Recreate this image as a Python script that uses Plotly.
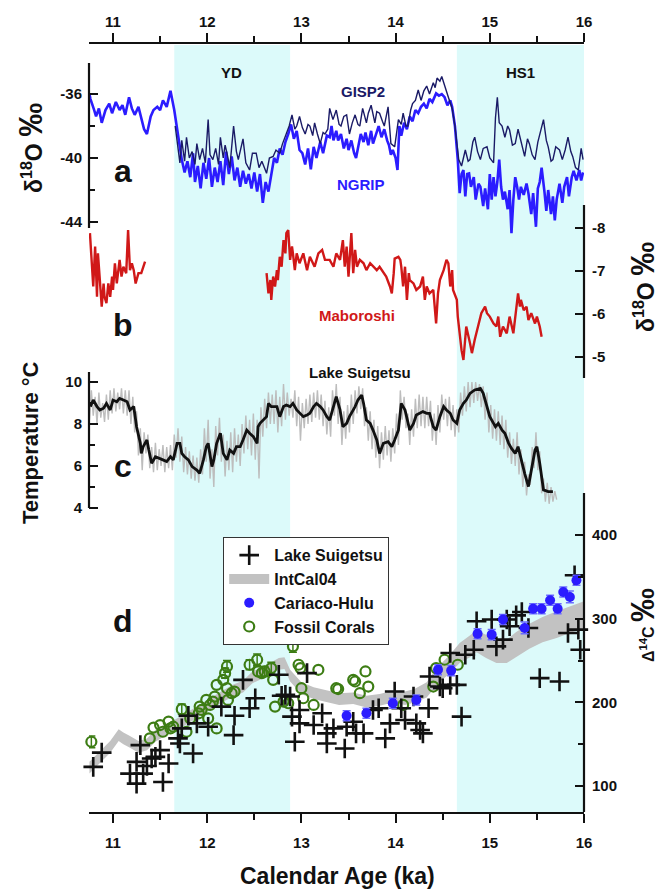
import plotly.graph_objects as go

W, H = 665, 892
def px(x): return x / W
def py(y): return 1 - y / H

# ---------------- DATA ----------------
top_ticks = [11, 12, 13, 14, 15, 16]
yd_band = [11.65, 12.88]
hs1_band = [14.65, 16.0]

ngrip_age = [10.75, 10.76, 10.80, 10.82, 10.85, 10.88, 10.92, 10.96, 10.99, 11.03, 11.07, 11.10, 11.13, 11.17,
             11.20, 11.23, 11.27, 11.30, 11.33, 11.36, 11.40, 11.43, 11.47, 11.50, 11.53, 11.57, 11.61, 11.65,
             11.70, 11.73, 11.76, 11.79, 11.82, 11.85, 11.87, 11.90, 11.93, 11.96, 11.99, 12.02, 12.05, 12.08,
             12.11, 12.14, 12.17, 12.20, 12.23, 12.26, 12.29, 12.32, 12.35, 12.38, 12.41, 12.44, 12.47, 12.50,
             12.53, 12.56, 12.59, 12.62, 12.65, 12.68, 12.71, 12.74, 12.77, 12.80, 12.83, 12.86, 12.89, 12.92,
             12.95, 12.98, 13.01, 13.04, 13.07, 13.10, 13.13, 13.16, 13.20, 13.23, 13.27,
             13.30, 13.32, 13.34, 13.37, 13.39, 13.42, 13.45, 13.48, 13.50, 13.53, 13.56, 13.58, 13.61, 13.63,
             13.66, 13.68, 13.71, 13.74, 13.76, 13.79, 13.82, 13.85, 13.88, 13.91, 13.93, 13.95, 13.97, 14.00,
             14.02, 14.04, 14.06, 14.09, 14.12, 14.15, 14.18, 14.21, 14.24, 14.27, 14.30, 14.33, 14.36, 14.39,
             14.43, 14.46, 14.49, 14.52, 14.55, 14.58, 14.60, 14.63, 14.66, 14.68, 14.70, 14.72, 14.74, 14.76,
             14.78, 14.80, 14.83, 14.85, 14.88, 14.90, 14.93, 14.95, 14.98, 15.00, 15.02, 15.04, 15.06, 15.08,
             15.10, 15.12, 15.14, 15.16, 15.19, 15.21, 15.23, 15.25, 15.27, 15.29, 15.31, 15.33, 15.36, 15.39,
             15.41, 15.44, 15.46, 15.49, 15.51, 15.53, 15.55, 15.58, 15.60, 15.62, 15.65, 15.67, 15.69, 15.71,
             15.74, 15.77, 15.79, 15.82, 15.84, 15.87, 15.89, 15.92, 15.95, 15.97, 15.99]
ngrip_d18o = [-36.0, -36.3, -37.0, -37.4, -36.9, -37.8, -37.0, -36.6, -37.2, -36.5, -37.0, -36.7, -37.3, -36.2,
              -36.9, -37.3, -36.8, -37.6, -38.2, -38.5, -37.4, -37.0, -36.8, -37.0, -36.4, -36.8, -35.8, -37.0,
              -39.0, -40.1, -40.9, -40.2, -41.2, -39.7, -41.5, -40.5, -41.9, -40.3, -41.3, -40.0, -41.8, -40.6,
              -41.5, -40.2, -41.7, -39.6, -41.0, -39.9, -41.4, -40.6, -41.8, -40.8, -41.6, -41.0, -41.9, -40.9,
              -42.1, -41.0, -42.8, -41.5, -42.1, -41.0, -40.0, -40.3, -39.4, -39.8, -39.0, -38.5, -37.9, -38.8,
              -38.3, -39.5, -39.7, -40.4, -39.4, -40.7, -39.3, -40.0, -39.0, -39.7, -38.6,
              -38.7, -38.0, -38.9, -38.3, -38.9, -38.5, -39.4, -38.8, -39.5, -38.9, -39.7, -40.0, -39.1, -38.5,
              -39.0, -38.4, -39.2, -38.3, -39.1, -38.6, -38.0, -38.7, -38.2, -38.9, -39.2, -39.8, -39.5, -40.0,
              -40.75, -38.0, -38.6, -37.8, -38.2, -37.4, -37.7, -37.0, -37.2, -36.8, -36.6, -36.9, -36.3, -36.5,
              -35.96, -36.1, -36.0, -36.2, -36.7, -36.4, -36.8, -38.0, -40.1, -42.2, -41.0, -40.75, -42.4, -41.0,
              -40.96, -41.8, -41.2, -42.6, -41.6, -41.8, -43.0, -41.9, -43.2, -41.0, -42.6, -41.2, -42.4, -41.5,
              -40.1, -41.8, -42.6, -42.1, -43.2, -42.0, -44.7, -42.6, -41.2, -41.8, -42.6, -41.8, -42.3, -41.6,
              -42.2, -43.5, -42.2, -44.3, -41.9, -41.5, -40.6, -42.1, -43.3, -42.0, -43.5, -42.4, -43.9, -42.6,
              -41.6, -42.8, -41.8, -41.2, -42.4, -41.2, -40.8, -41.4, -40.75, -41.4, -40.9]

gisp2_age = [11.66, 11.69, 11.71, 11.73, 11.76, 11.78, 11.81, 11.84, 11.87, 11.89, 11.92, 11.95, 11.98, 12.01,
             12.03, 12.06, 12.09, 12.12, 12.14, 12.17, 12.19, 12.21, 12.24, 12.28, 12.31, 12.33, 12.36, 12.38,
             12.41, 12.45, 12.48, 12.52, 12.55, 12.58, 12.60, 12.63, 12.66, 12.70, 12.73, 12.77, 12.80, 12.84,
             12.87, 12.90, 12.93, 12.95, 12.98, 13.01, 13.04, 13.07, 13.09, 13.12, 13.14, 13.17, 13.20, 13.23,
             13.25, 13.28, 13.30, 13.335, 13.37, 13.40, 13.42, 13.45, 13.48, 13.51, 13.54, 13.57, 13.60, 13.62,
             13.65, 13.69, 13.71, 13.74, 13.78, 13.80, 13.83, 13.86, 13.88, 13.92, 13.95, 13.99, 14.03, 14.06,
             14.08, 14.11, 14.13, 14.16, 14.18, 14.21, 14.24, 14.27, 14.30, 14.33, 14.36, 14.40, 14.42, 14.44,
             14.47, 14.49, 14.52, 14.56, 14.60, 14.63, 14.67, 14.70, 14.74, 14.77, 14.79, 14.82, 14.84, 14.87,
             14.90, 14.93, 14.97, 15.00, 15.04, 15.06, 15.08, 15.10, 15.13, 15.16, 15.19, 15.21, 15.24, 15.27,
             15.30, 15.32, 15.35, 15.37, 15.40, 15.42, 15.45, 15.48, 15.51, 15.53, 15.55, 15.57, 15.60, 15.62,
             15.65, 15.67, 15.70, 15.74, 15.77, 15.80, 15.83, 15.86, 15.88, 15.91, 15.94, 15.97, 15.99]
gisp2_d18o = [-38.0, -39.5, -40.3, -38.9, -40.2, -38.7, -40.0, -39.6, -40.4, -39.1, -40.1, -39.4, -40.3, -37.6,
              -39.8, -40.1, -39.4, -40.4, -38.7, -40.0, -39.2, -39.7, -40.6, -38.0, -39.6, -40.1, -39.2, -38.8,
              -40.3, -40.75, -39.7, -39.7, -40.6, -40.2, -40.5, -40.96, -40.0, -39.9, -39.5, -39.7, -39.1, -38.5,
              -38.0, -37.3, -38.2, -38.0, -37.4, -38.1, -38.5, -37.9, -38.0, -38.6, -37.8, -38.5, -39.1, -38.4,
              -38.5, -38.2, -36.9, -37.6, -37.0, -37.9, -38.0, -37.4, -37.3, -38.5, -37.8, -37.3, -37.9, -38.0,
              -36.9, -37.8, -37.2, -36.7, -37.8, -37.1, -37.2, -37.7, -38.0, -36.8, -39.1, -39.3, -37.6, -37.9,
              -37.2, -38.0, -38.0, -37.0, -36.6, -36.4, -35.75, -36.4, -35.8, -35.5, -36.0, -35.3, -35.6, -35.0,
              -35.2, -34.9, -35.5, -36.2, -36.9, -38.0, -40.1, -40.5, -39.5, -40.2, -40.1, -39.0, -38.7, -39.6,
              -40.1, -39.4, -39.3, -40.0, -40.3, -37.5, -36.2, -37.8, -38.0, -38.7, -38.0, -38.25, -39.2, -39.1,
              -38.2, -38.7, -39.5, -39.9, -38.8, -39.1, -39.8, -40.1, -39.0, -38.5, -38.0, -37.6, -38.9, -39.3,
              -40.2, -40.1, -39.3, -39.5, -40.1, -39.5, -38.7, -39.6, -39.9, -40.6, -40.75, -39.4, -40.1]

mab_age = [10.755, 10.77, 10.79, 10.81, 10.83, 10.84, 10.86, 10.88, 10.90, 10.91, 10.93, 10.95, 10.97, 10.99,
           11.00, 11.02, 11.04, 11.06, 11.07, 11.09, 11.11, 11.14, 11.16, 11.18, 11.20, 11.22, 11.24, 11.27,
           11.30, 11.34, None,
           12.63, 12.65, 12.67, 12.68, 12.70, 12.72, 12.74, 12.75, 12.77, 12.79, 12.81, 12.83, 12.84, 12.86,
           12.88, 12.90, 12.91, 12.93, 12.95, 12.98, 13.02, 13.06, 13.09, 13.14, 13.18, 13.22, 13.25, 13.30,
           13.34, 13.37, 13.41, 13.44, 13.46, 13.48, 13.50, 13.52, 13.53, 13.55, 13.57, 13.59, 13.62, 13.66,
           13.69, 13.73, 13.76, 13.80, 13.83, 13.87, 13.90, 13.94, 13.96, 13.98, 13.99, 14.03, 14.05, 14.06,
           14.08, 14.10, 14.12, 14.14, 14.15, 14.19, 14.22, 14.26, 14.29, 14.31, 14.33, 14.36, 14.40, 14.43,
           14.45, 14.47, 14.51, 14.54, 14.56, 14.58, 14.60, 14.61, 14.65, 14.66, 14.68, 14.70, 14.72, 14.74,
           14.75, 14.79, 14.81, 14.84, 14.88, 14.91, 14.95, 14.97, 15.00, 15.04, 15.07, 15.09, 15.11, 15.14,
           15.18, 15.21, 15.25, 15.28, 15.30, 15.32, 15.33, 15.36, 15.39, 15.41, 15.44, 15.48, 15.50, 15.53,
           15.55]
mab_d18o = [-7.88, -7.26, -6.64, -7.57, -6.40, -7.41, -6.79, -6.17, -6.71, -6.40, -6.25, -6.71, -6.40, -6.87,
            -6.56, -7.18, -6.71, -7.02, -7.26, -6.87, -7.10, -6.95, -7.95, -7.02, -7.18, -7.02, -6.71, -6.95,
            -6.95, -7.22, None,
            -6.95, -6.48, -6.79, -6.33, -6.87, -6.64, -7.02, -6.79, -7.33, -7.10, -7.72, -7.41, -7.88, -7.95,
            -7.26, -7.57, -7.41, -7.02, -7.41, -7.18, -7.41, -7.02, -7.33, -7.10, -7.41, -7.49, -7.26, -7.26,
            -7.10, -7.41, -7.26, -7.72, -7.10, -7.57, -6.87, -7.64, -7.88, -6.95, -7.49, -7.10, -7.26, -7.18,
            -7.02, -7.18, -7.10, -7.02, -7.10, -6.98, -6.87, -6.64, -6.48, -6.95, -7.29, -7.33, -7.26, -7.10,
            -6.64, -7.10, -6.33, -6.95, -6.79, -6.71, -6.56, -6.64, -6.87, -6.33, -6.64, -6.48, -6.56, -5.78,
            -6.48, -6.79, -7.02, -7.26, -7.18, -6.64, -7.02, -6.56, -6.33, -5.94, -5.55, -5.16, -4.93, -5.40,
            -5.71, -5.32, -5.09, -5.40, -5.78, -6.02, -6.17, -6.02, -5.94, -5.78, -5.71, -5.94, -5.47, -5.71,
            -5.55, -5.94, -5.55, -6.09, -6.48, -6.17, -6.33, -6.09, -6.17, -5.86, -6.02, -5.78, -5.94, -5.71,
            -5.47]

temp_age = [10.76, 10.79, 10.83, 10.86, 10.90, 10.93, 10.97, 11.00, 11.04, 11.07, 11.11, 11.15, 11.18, 11.22,
            11.23, 11.25, 11.29, 11.30, 11.32, 11.36, 11.38, 11.41, 11.45, 11.48, 11.53, 11.57, 11.61, 11.64,
            11.68, 11.71, 11.73, 11.76, 11.80, 11.84, 11.89, 11.92, 11.96, 11.99, 12.01, 12.05, 12.07, 12.10,
            12.14, 12.17, 12.21, 12.24, 12.28, 12.31, 12.35, 12.38, 12.42, 12.45, 12.49, 12.53, 12.54, 12.56,
            12.60, 12.63, 12.65, 12.68, 12.74, 12.77, 12.81, 12.84, 12.88, 12.91, 12.95, 12.99, 13.02, 13.06,
            13.09, 13.13, 13.16, 13.20, 13.23, 13.27, 13.30, 13.34, 13.37, 13.41, 13.44, 13.48, 13.51, 13.57,
            13.60, 13.64, 13.66, 13.69, 13.73, 13.76, 13.80, 13.83, 13.87, 13.92, 13.96, 13.99, 14.03, 14.06,
            14.10, 14.15, 14.19, 14.22, 14.26, 14.29, 14.33, 14.36, 14.40, 14.43, 14.47, 14.51, 14.54, 14.58,
            14.61, 14.65, 14.68, 14.72, 14.75, 14.79, 14.84, 14.90, 14.93, 14.97, 15.00, 15.04, 15.06, 15.09,
            15.13, 15.16, 15.20, 15.23, 15.27, 15.30, 15.34, 15.37, 15.41, 15.44, 15.48, 15.50, 15.53, 15.57,
            15.62, 15.67]
temp_smooth = [8.83, 9.14, 8.83, 8.67, 8.75, 8.98, 8.67, 9.14, 9.06, 9.22, 9.14, 9.06, 8.67, 8.83,
               8.51, 7.87, 7.08, 6.60, 6.92, 7.24, 6.76, 6.13, 6.44, 6.37, 6.29, 6.21, 6.44, 6.29,
               7.08, 7.08, 6.60, 6.44, 6.29, 5.97, 5.81, 5.65, 6.29, 6.92, 7.08, 5.97, 6.29, 7.08,
               7.56, 6.60, 6.29, 6.76, 6.60, 6.92, 6.92, 7.24, 7.71, 7.56, 7.40, 7.08, 7.87, 8.03,
               8.19, 8.35, 8.98, 8.83, 8.83, 8.35, 8.83, 8.90, 8.83, 8.98, 8.67, 8.51, 8.35, 8.43,
               8.51, 8.83, 8.98, 8.83, 8.67, 8.35, 8.19, 8.83, 9.30, 8.67, 7.87, 8.03, 8.35, 8.83,
               9.14, 9.38, 8.98, 8.19, 8.03, 7.71, 7.24, 6.60, 7.08, 7.16, 6.92, 7.24, 7.71, 8.98,
               8.67, 7.71, 8.03, 8.43, 8.51, 8.59, 8.51, 8.51, 7.87, 7.71, 8.35, 8.83, 8.67, 8.51,
               8.19, 8.03, 8.67, 8.98, 9.14, 9.46, 9.62, 9.70, 9.46, 8.83, 8.35, 8.03, 7.87, 8.03,
               7.71, 7.56, 7.08, 6.84, 6.60, 6.92, 6.13, 5.65, 5.02, 5.81, 6.76, 6.92, 6.13, 4.86,
               4.78, 4.78]

temp_raw_age = [10.75, 10.77, 10.79, 10.81, 10.83, 10.85, 10.87, 10.89, 10.91, 10.93, 10.95, 10.97, 10.99, 11.01,
                11.03, 11.05, 11.07, 11.09, 11.11, 11.13, 11.15, 11.17, 11.19, 11.21, 11.23, 11.25, 11.27, 11.29,
                11.31, 11.33, 11.35, 11.37, 11.39, 11.41, 11.43, 11.45, 11.47, 11.49, 11.51, 11.53, 11.55, 11.57,
                11.59, 11.61, 11.63, 11.65, 11.67, 11.69, 11.71, 11.73, 11.75, 11.77, 11.79, 11.81, 11.83, 11.85,
                11.87, 11.89, 11.91, 11.93, 11.95, 11.97, 11.99, 12.01, 12.03, 12.05, 12.07, 12.09, 12.11, 12.13,
                12.15, 12.17, 12.19, 12.21, 12.23, 12.25, 12.27, 12.29, 12.31, 12.33, 12.35, 12.37, 12.39, 12.41,
                12.43, 12.45, 12.47, 12.49, 12.51, 12.53, 12.55, 12.57, 12.59, 12.61, 12.63, 12.65, 12.67, 12.69,
                12.71, 12.73, 12.75, 12.77, 12.79, 12.81, 12.83, 12.85, 12.87, 12.89, 12.91, 12.93, 12.95, 12.97,
                12.99, 13.01, 13.03, 13.05, 13.07, 13.09, 13.11, 13.13, 13.15, 13.17, 13.19, 13.21, 13.23, 13.25,
                13.27, 13.29, 13.31, 13.33, 13.35, 13.37, 13.39, 13.41, 13.43, 13.45, 13.47, 13.49, 13.51, 13.53,
                13.55, 13.57, 13.59, 13.61, 13.63, 13.65, 13.67, 13.69, 13.71, 13.73, 13.75, 13.77, 13.79, 13.81,
                13.83, 13.85, 13.87, 13.89, 13.91, 13.93, 13.95, 13.97, 13.99, 14.01, 14.03, 14.05, 14.07, 14.09,
                14.11, 14.13, 14.15, 14.17, 14.19, 14.21, 14.23, 14.25, 14.27, 14.29, 14.31, 14.33, 14.35, 14.37,
                14.39, 14.41, 14.43, 14.45, 14.47, 14.49, 14.51, 14.53, 14.55, 14.57, 14.59, 14.61, 14.63, 14.65,
                14.67, 14.69, 14.71, 14.73, 14.75, 14.77, 14.79, 14.81, 14.83, 14.85, 14.87, 14.89, 14.91, 14.93,
                14.95, 14.97, 14.99, 15.01, 15.03, 15.05, 15.07, 15.09, 15.11, 15.13, 15.15, 15.17, 15.19, 15.21,
                15.23, 15.25, 15.27, 15.29, 15.31, 15.33, 15.35, 15.37, 15.39, 15.41, 15.43, 15.45, 15.47, 15.49,
                15.51, 15.53, 15.55, 15.57, 15.59, 15.61, 15.63, 15.65, 15.67, 15.69, 15.71]
temp_raw = [8.2, 9.6, 8.4, 9.3, 8.0, 9.5, 8.3, 9.0, 8.1, 9.4, 8.2, 9.6, 8.5, 9.7,
            8.6, 9.5, 8.7, 9.7, 8.5, 9.6, 8.4, 9.6, 8.0, 9.3, 7.6, 8.6, 6.5, 7.8,
            5.8, 7.6, 6.6, 7.5, 5.9, 6.9, 5.7, 7.1, 5.8, 6.8, 6.0, 7.0, 5.7, 6.9,
            5.9, 7.0, 5.8, 7.5, 6.4, 7.8, 6.2, 7.4, 5.7, 6.9, 5.6, 6.7, 5.4, 6.5,
            5.3, 6.4, 5.2, 6.8, 5.6, 7.8, 6.2, 8.2, 5.4, 6.8, 5.0, 7.9, 6.5, 8.3,
            6.2, 7.5, 5.5, 7.2, 5.8, 7.6, 5.7, 7.8, 6.2, 7.5, 6.0, 8.0, 6.6, 8.4,
            6.8, 8.2, 6.5, 8.5, 6.3, 8.2, 5.4, 8.8, 7.4, 9.2, 7.8, 9.5, 8.0, 9.4,
            8.0, 9.6, 7.6, 9.3, 7.9, 9.9, 8.2, 9.5, 8.4, 9.2, 8.3, 9.6, 7.9, 9.3,
            7.2, 9.0, 7.8, 9.2, 8.0, 9.4, 8.1, 9.5, 8.3, 9.6, 8.2, 9.4, 7.9, 9.1,
            7.5, 8.8, 7.4, 9.6, 8.4, 9.9, 8.0, 9.3, 7.0, 8.6, 7.3, 8.9, 7.6, 9.4,
            8.0, 9.6, 8.5, 9.8, 8.7, 9.7, 7.9, 8.8, 7.2, 8.6, 6.8, 8.2, 6.4, 7.9,
            5.9, 7.6, 6.3, 7.9, 6.5, 7.7, 6.2, 7.8, 6.6, 8.5, 7.0, 9.6, 8.2, 9.3,
            7.8, 8.5, 7.0, 8.7, 7.4, 9.2, 7.8, 9.4, 7.9, 9.3, 7.8, 9.3, 7.9, 9.1,
            7.2, 8.5, 7.0, 8.9, 7.6, 9.4, 8.2, 9.2, 7.9, 9.3, 7.7, 8.9, 7.4, 8.7,
            7.6, 9.5, 8.4, 9.8, 8.6, 10.0, 8.8, 10.0, 9.0, 10.0, 9.1, 9.9, 8.8, 9.8,
            8.2, 9.5, 7.6, 8.9, 7.3, 8.7, 7.2, 8.6, 7.0, 8.4, 6.8, 8.2, 6.4, 7.6,
            6.1, 7.3, 6.0, 7.6, 5.6, 6.8, 5.0, 6.2, 4.6, 5.6, 5.1, 6.9, 5.9, 7.6,
            5.8, 6.7, 4.7, 5.4, 4.3, 5.2, 4.2, 5.0, 4.3, 4.8, 4.4]

c14_age = [10.79, 10.88, 11.18, 11.25, 11.25, 11.29, 11.32, 11.36, 11.41, 11.45, 11.50, 11.53, 11.59,
           11.69, 11.71, 11.73, 11.80, 11.85, 11.89, 12.01, 12.15, 12.28, 12.29, 12.38, 12.45, 12.51,
           12.76, 12.79, 12.83, 12.88, 12.90, 12.93, 12.98, 12.98, 13.06, 13.13, 13.22, 13.27, 13.27,
           13.34, 13.46, 13.48, 13.55, 13.58, 13.66, 13.76, 13.82, 13.89, 13.94, 13.99, 14.06, 14.10,
           14.19, 14.22, 14.26, 14.29, 14.35, 14.36, 14.47, 14.50, 14.58, 14.58, 14.65, 14.70, 14.74,
           14.83, 14.86, 15.02, 15.07, 15.14, 15.18, 15.21, 15.28, 15.34, 15.41, 15.53, 15.74, 15.83,
           15.90, 15.94, 15.96]
c14_val = [123, 140, 115, 129, 103, 149, 115, 124, 133, 135, 143, 105, 127,
           157, 151, 169, 184, 139, 175, 171, 195, 161, 184, 227, 193, 205,
           233, 208, 209, 207, 183, 153, 191, 175, 235, 173, 187, 163, 151,
           169, 145, 171, 177, 163, 163, 191, 193, 157, 175, 213, 193, 179,
           207, 175, 167, 163, 193, 231, 219, 217, 259, 221, 221, 183, 257,
           263, 297, 299, 267, 275, 299, 291, 304, 308, 289, 229, 225, 283,
           352, 287, 263]

intcal_age = [10.75, 10.86, 10.97, 11.06, 11.11, 11.18, 11.27, 11.36, 11.45, 11.55, 11.65, 11.71, 11.85,
              11.99, 12.13, 12.27, 12.38, 12.48, 12.62, 12.76, 12.82, 12.88, 13.00, 13.13, 13.27, 13.40,
              13.55, 13.69, 13.83, 13.97, 14.10, 14.20, 14.33, 14.40, 14.47, 14.57, 14.68, 14.79, 14.86,
              14.96, 15.07, 15.18, 15.28, 15.42, 15.56, 15.71, 15.85, 16.00]
intcal_mid = [122, 135, 147, 161, 157, 153, 147, 150, 160, 167, 172, 176, 186,
              195, 205, 214, 219, 230, 237, 246, 247, 232, 217, 211, 207, 204,
              205, 201, 203, 207, 205, 208, 215, 226, 235, 245, 259, 267, 273,
              267, 261, 261, 269, 279, 287, 293, 299, 305]
intcal_sig = [7, 7, 7, 7, 7, 7, 7, 7, 7, 7, 7, 7, 7,
              7, 7, 7, 7, 7, 7, 7, 7, 7, 7, 7, 7, 7,
              7, 7, 7, 7, 8, 8, 9, 10, 10, 11, 12, 13, 13,
              14, 14, 14, 15, 15, 15, 16, 16, 16]

cariaco_age = [13.48, 13.69, 13.97, 14.22, 14.45, 14.59, 14.87, 15.02, 15.14, 15.37, 15.46, 15.55, 15.64,
               15.72, 15.78, 15.85, 15.92]
cariaco_val = [184, 187, 199, 203, 239, 238, 282, 281, 299, 289, 312, 312, 322, 312, 332, 326, 346]
cariaco_err = [6, 6, 6, 6, 6, 6, 6, 6, 6, 7, 6, 6, 6, 6, 6, 7, 6]

coral_age = [10.77, 11.39, 11.43, 11.50, 11.53, 11.59, 11.61, 11.64, 11.73, 11.78, 11.82, 11.91, 11.92,
             11.94, 11.99, 12.01, 12.03, 12.06, 12.08, 12.10, 12.10, 12.17, 12.19, 12.21, 12.21, 12.22,
             12.26, 12.29, 12.45, 12.53, 12.54, 12.58, 12.61, 12.68, 12.70, 12.72, 12.81, 12.86, 12.91,
             12.97, 12.99, 13.00, 13.02, 13.13, 13.18, 13.37, 13.39, 13.55, 13.57, 13.62, 13.68, 13.71,
             14.08, 14.40, 14.43, 14.52, 14.66]
coral_val = [153, 157, 170, 173, 165, 177, 169, 171, 192, 165, 181, 187, 195,
             191, 203, 181, 197, 201, 207, 169, 221, 227, 235, 243, 217, 203,
             211, 213, 245, 251, 237, 235, 237, 241, 227, 195, 201, 199, 267,
             245, 241, 217, 205, 197, 239, 217, 216, 227, 225, 211, 237, 219,
             197, 219, 241, 251, 245]
# 0 = error smaller than the symbol (no visible bar)
coral_err = [7, 0, 0, 0, 0, 0, 0, 0, 6, 0, 0, 0, 0,
             0, 0, 0, 0, 0, 0, 0, 0, 0, 6, 7, 0, 0,
             0, 0, 6, 7, 0, 0, 6, 7, 0, 0, 0, 0, 7,
             0, 0, 0, 0, 0, 0, 0, 0, 0, 0, 0, 0, 0,
             0, 0, 0, 0, 0]

# ---------------- STYLE ----------------
FONT = "Liberation Sans"
BLACK = "#111111"
BLUE = "#2b1cff"
NAVY = "#1a1a66"
RED = "#d01818"
GREEN = "#3d7d14"
GRAY = "#c2c2c2"
CYAN = "#dcfafa"

X0, X1 = 89, 584
xr = [10.745, 16.0]

fig = go.Figure()

# panel d: IntCal band
lo = [m - s for m, s in zip(intcal_mid, intcal_sig)]
hi = [m + s for m, s in zip(intcal_mid, intcal_sig)]
fig.add_trace(go.Scatter(x=intcal_age, y=lo, yaxis="y4", mode="lines", line=dict(width=0, color=GRAY),
                         showlegend=False, hoverinfo="skip"))
fig.add_trace(go.Scatter(x=intcal_age, y=hi, yaxis="y4", mode="lines", line=dict(width=0, color=GRAY),
                         fill="tonexty", fillcolor=GRAY, showlegend=False, hoverinfo="skip"))
fig.add_trace(go.Scatter(x=[None], y=[None], yaxis="y4", mode="lines", name="IntCal04",
                         line=dict(width=10, color=GRAY), legendrank=2))

# coral error bars only where they exceed the symbol
eb = [i for i, e in enumerate(coral_err) if e > 0]
fig.add_trace(go.Scatter(x=[coral_age[i] for i in eb], y=[coral_val[i] for i in eb], yaxis="y4",
                         mode="markers", marker=dict(size=1, color="rgba(0,0,0,0)"),
                         error_y=dict(type="data", array=[coral_err[i] for i in eb], color=GREEN,
                                      thickness=1.5, width=4),
                         showlegend=False, hoverinfo="skip", cliponaxis=False))
fig.add_trace(go.Scatter(x=coral_age, y=coral_val, yaxis="y4", mode="markers", name="Fossil Corals",
                         marker=dict(symbol="circle-open", size=10, color=GREEN, line=dict(width=2.2, color=GREEN)),
                         cliponaxis=False, legendrank=4))
fig.add_trace(go.Scatter(x=c14_age, y=c14_val, yaxis="y4", mode="markers", name="Lake Suigetsu",
                         marker=dict(symbol="cross-thin", size=14, color=BLACK, line=dict(width=2.6, color=BLACK)),
                         cliponaxis=False, legendrank=1))
fig.add_trace(go.Scatter(x=cariaco_age, y=cariaco_val, yaxis="y4", mode="markers", name="Cariaco-Hulu",
                         marker=dict(symbol="circle", size=10, color=BLUE),
                         error_y=dict(type="data", array=cariaco_err, color="#6b6bff", thickness=1.5, width=4),
                         cliponaxis=False, legendrank=3))

# panel c
fig.add_trace(go.Scatter(x=temp_raw_age, y=temp_raw, yaxis="y3", mode="lines",
                         line=dict(width=1.4, color="#bdbdbd"), showlegend=False))
fig.add_trace(go.Scatter(x=temp_age, y=temp_smooth, yaxis="y3", mode="lines",
                         line=dict(width=2.8, color=BLACK), showlegend=False))

# panel b
fig.add_trace(go.Scatter(x=mab_age, y=mab_d18o, yaxis="y2", mode="lines", connectgaps=False,
                         line=dict(width=2.4, color=RED), showlegend=False))

# panel a
fig.add_trace(go.Scatter(x=ngrip_age, y=ngrip_d18o, xaxis="x2", yaxis="y", mode="lines",
                         line=dict(width=2.6, color=BLUE), showlegend=False))
fig.add_trace(go.Scatter(x=gisp2_age, y=gisp2_d18o, xaxis="x2", yaxis="y", mode="lines",
                         line=dict(width=1.4, color=NAVY), showlegend=False))

# shaded intervals
for a, b in (yd_band, hs1_band):
    fig.add_shape(type="rect", xref="x", yref="paper", x0=a, x1=b, y0=py(813), y1=py(45),
                  fillcolor=CYAN, line=dict(width=0), layer="below")

# vertical axis lines
for xx, ya, yb in ((X0, 63, 228), (X1, 205, 378), (X0, 372, 508), (X1, 493, 812)):
    fig.add_shape(type="line", xref="paper", yref="paper", x0=px(xx), x1=px(xx), y0=py(ya), y1=py(yb),
                  line=dict(width=2.2, color=BLACK))

tickfont = dict(family=FONT, size=15, color=BLACK, weight="bold")

def yax(domain_px, rng, side, vals, minor_vals, standoff):
    return dict(domain=[py(domain_px[1]), py(domain_px[0])], range=rng, side=side, anchor="x",
                showgrid=False, zeroline=False, showline=False, automargin=False,
                ticks="inside", ticklen=9, tickwidth=2, tickcolor=BLACK,
                tickmode="array", tickvals=vals, ticktext=[f"{v:g}" for v in vals],
                tickfont=tickfont, ticklabelstandoff=standoff,
                minor=dict(tickmode="array", tickvals=minor_vals, ticks="inside", ticklen=6,
                           tickwidth=2, tickcolor=BLACK, showgrid=False))

xaxis_common = dict(range=xr, domain=[px(X0), px(X1)], showgrid=False, zeroline=False, showline=True,
                    automargin=False,
                    linewidth=2.2, linecolor=BLACK, ticks="outside", ticklen=9, tickwidth=2,
                    tickcolor=BLACK, tickmode="array", tickvals=top_ticks,
                    ticktext=[str(t) for t in top_ticks], tickfont=tickfont,
                    minor=dict(tickmode="array", tickvals=[11.5, 12.5, 13.5, 14.5, 15.5], ticks="outside",
                               ticklen=6, tickwidth=2, tickcolor=BLACK, showgrid=False))

fig.update_layout(
    width=W, height=H, margin=dict(l=0, r=0, t=0, b=0, pad=0, autoexpand=False),
    paper_bgcolor="white", plot_bgcolor="rgba(0,0,0,0)",
    font=dict(family=FONT, color=BLACK),
    xaxis=dict(**xaxis_common, anchor="free", position=py(813), side="bottom", ticklabelstandoff=7),
    xaxis2=dict(**xaxis_common, anchor="free", position=py(43), side="top", overlaying="x"),
    yaxis=yax((63, 238), [-45.0, -34.06], "left", [-44, -40, -36], [-42, -38], 6),
    yaxis2=yax((205, 378), [-4.512, -8.535], "right", [-8, -7, -6, -5], [], 7),
    yaxis3=yax((372, 510), [3.905, 10.476], "left", [4, 6, 8, 10], [5, 7, 9], 6),
    yaxis4=yax((493, 812), [69.1, 450.2], "right", [100, 200, 300, 400], [150, 250, 350], 7),
    legend=dict(x=px(223), y=py(537), xanchor="left", yanchor="top", bgcolor="white",
                bordercolor="#333333", borderwidth=1.2, font=dict(family=FONT, size=16, color=BLACK, weight="bold"),
                traceorder="normal", itemwidth=40, tracegroupgap=0),
    showlegend=True,
)

def ann(text, x, y, size=15, color=BLACK, angle=0):
    fig.add_annotation(text=text, x=px(x), y=py(y), xref="paper", yref="paper", showarrow=False,
                       textangle=angle, font=dict(family=FONT, size=size, color=color, weight="bold"),
                       xanchor="center", yanchor="middle")

ann("YD", 231, 73)
ann("HS1", 520, 73)
ann("GISP2", 363, 92, 15, NAVY)
ann("NGRIP", 361, 184, 15, BLUE)
ann("Maboroshi", 357, 315, 15, RED)
ann("Lake Suigetsu", 360, 373, 15)
for lab, y in (("a", 171), ("b", 325), ("c", 466), ("d", 621)):
    ann(lab, 123, y, 32)

ann("δ<sup>18</sup>O <span style='font-size:34px'>‰</span>", 30, 148, 23, angle=-90)
ann("Temperature °C", 30, 443, 22, angle=-90)
ann("δ<sup>18</sup>O <span style='font-size:34px'>‰</span>", 642, 287, 23, angle=-90)
ann("Δ<sup>14</sup>C <span style='font-size:34px'>‰</span>", 642, 625, 16, angle=-90)
ann("Calendar Age (ka)", 337, 876, 23)

fig.write_html("out.html", config={"displayModeBar": False},
               post_script="document.body.style.margin='0';document.body.style.overflow='hidden';")
